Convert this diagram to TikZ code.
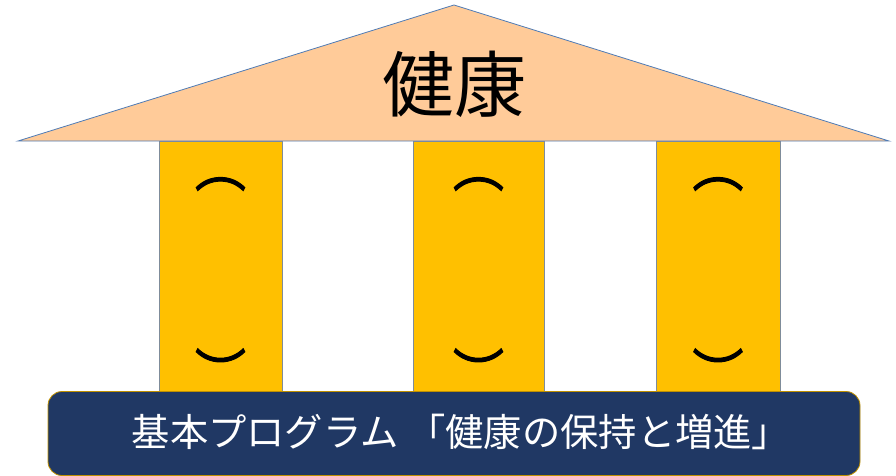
\documentclass[tikz,border=0pt]{standalone}
\usepackage{fontspec}
\setmainfont{Noto Sans CJK JP}
\usetikzlibrary{positioning}
\definecolor{roofpeach}{HTML}{FFCB99}
\definecolor{roofline}{HTML}{4F7BB5}
\definecolor{pillargold}{HTML}{FFC000}
\definecolor{pillarline}{HTML}{7F8C9A}
\definecolor{basenavy}{HTML}{203864}
\definecolor{baseline}{HTML}{BF9000}

\begin{document}
\begin{tikzpicture}[x=1pt, y=-1pt,
    pillar/.style = {draw=pillarline, fill=pillargold, line width=0.8pt, inner sep=0pt,
                     minimum height=250pt},
    bracket/.style = {inner sep=0pt, font=\fontsize{51}{51}\selectfont\addfontfeatures{FakeBold=2}},
    basebox/.style = {draw=baseline, fill=basenavy, line width=0.8pt, rounded corners=14pt,
                      minimum width=812pt, minimum height=84pt, inner sep=0pt}]

        \useasboundingbox (0,0) rectangle (896,476);

        % Pillars
        \node[pillar, minimum width=123pt] (p1) at (220.5,266) {};
        \node[pillar, minimum width=131pt] (p2) at (478.5,266) {};
        \node[pillar, minimum width=124pt] (p3) at (718,266) {};

        % Brackets on the pillars
        \foreach \p in {p1,p2,p3} {
            \node[bracket] (\p top) at (\p.center |- 0,184) {︵};
            \node[bracket] (\p bot) at (\p.center |- 0,370) {︶};
        }

        % Roof
        \draw[roofline, fill=roofpeach, line width=0.8pt, line join=miter]
            (18,141) -- (454,5) -- (889,141) -- cycle;
        \node[font=\fontsize{72}{72}\selectfont] (health) at (454,84) {健康};

        % Base
        \node[basebox] (base) at (454,433.5) {};
        \node[white, font=\fontsize{38.3}{38.3}\selectfont] (program) at (461,432)
            {基本プログラム 「健康の保持と増進」};
    \end{tikzpicture}
\end{document}
